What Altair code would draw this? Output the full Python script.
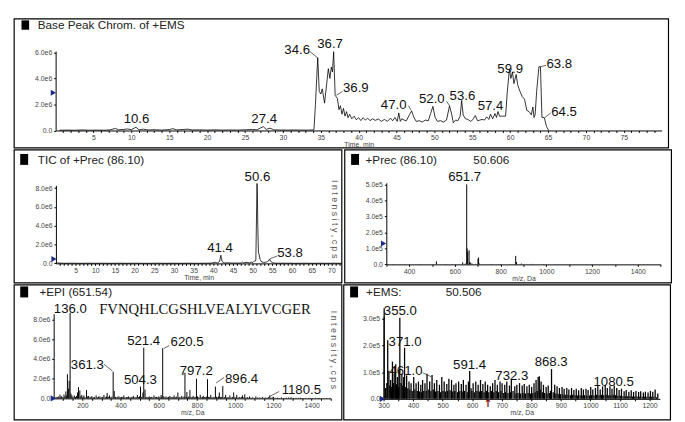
import altair as alt
import pandas as pd

SX = 669 / 685
SY = 406 / 422
FONT = "Liberation Sans"
AXC = "#444"

# ---------------- data ----------------
# Panel 1: Base Peak Chromatogram (time min, intensity 1e6)
P1_TIME = [0.5, 1.5, 2.5, 3.5, 4.5, 5.5, 6.5, 7.2, 7.9, 8.3,
           9.0, 9.5, 10.0, 10.6, 11.0, 11.6, 12.2, 13.0, 14.0, 15.0,
           15.5, 16.0, 16.8, 17.5, 18.0, 19.0, 20.0, 21.0, 22.0, 23.0,
           24.0, 25.0, 26.0, 26.6, 27.4, 27.8, 28.3, 28.8, 29.5, 30.5,
           31.5, 32.5, 33.5, 34.1, 34.3, 34.6, 34.8, 35.0, 35.2, 35.5,
           36.0, 36.2, 36.4, 36.55, 36.7, 36.9, 37.2, 37.4, 37.6, 37.8,
           38.0, 38.2, 38.4, 38.6, 38.8, 39.1, 39.4, 39.7, 40.0, 40.3,
           40.6, 40.9, 41.2, 41.5, 41.8, 42.2, 42.6, 43.0, 43.4, 43.8,
           44.2, 44.5, 44.8, 45.1, 45.3, 45.5, 45.7, 46.0, 46.3, 46.7,
           47.0, 47.3, 47.6, 48.0, 48.4, 48.8, 49.2, 49.5, 49.8, 50.1,
           50.4, 50.8, 51.2, 51.6, 52.0, 52.3, 52.5, 52.8, 53.1, 53.4,
           53.6, 53.8, 54.1, 54.4, 54.8, 55.1, 55.4, 55.7, 56.0, 56.3,
           56.6, 56.9, 57.2, 57.4, 57.7, 58.0, 58.2, 58.4, 58.6, 59.0,
           59.4, 59.6, 59.9, 60.1, 60.3, 60.5, 60.8, 61.0, 61.3, 61.6,
           61.9, 62.2, 62.5, 62.8, 63.0, 63.15, 63.3, 63.5, 63.8, 64.0,
           64.2, 64.5, 64.8, 65.1]
P1_INT = [0.02, 0.03, 0.02, 0.04, 0.02, 0.03, 0.02, 0.05, 0.16, 0.05,
          0.08, 0.12, 0.06, 0.25, 0.05, 0.10, 0.04, 0.06, 0.03, 0.07,
          0.14, 0.04, 0.08, 0.10, 0.04, 0.05, 0.03, 0.05, 0.03, 0.04,
          0.03, 0.05, 0.08, 0.05, 0.30, 0.08, 0.18, 0.05, 0.04, 0.03,
          0.04, 0.03, 0.03, 0.05, 2.0, 5.6, 3.0, 2.8, 3.2, 2.1,
          4.75, 4.0, 4.87, 4.5, 6.05, 2.7, 2.45, 1.6, 1.9, 1.25,
          1.7, 1.1, 1.45, 0.98, 1.25, 0.9, 1.1, 0.83, 0.98, 0.76,
          0.98, 0.8, 0.95, 0.75, 0.9, 0.78, 0.88, 0.7, 0.85, 0.7,
          0.95, 0.75, 1.0, 0.7, 1.35, 0.7, 0.9, 0.8, 0.75, 1.2,
          1.5, 1.0, 0.7, 0.75, 0.65, 0.8, 0.75, 1.3, 1.85, 1.0,
          0.7, 0.75, 0.65, 0.8, 1.9, 1.2, 0.6, 0.8, 0.75, 1.1,
          2.3, 1.2, 0.9, 0.85, 0.7, 0.85, 1.15, 0.75, 0.8, 0.85,
          0.8, 1.05, 0.85, 1.25, 0.9, 1.3, 1.0, 1.45, 1.1, 1.1,
          1.1, 2.8, 4.7, 4.0, 4.5, 3.6, 4.3, 3.5, 3.0, 2.6,
          2.4, 1.55, 1.45, 1.2, 1.8, 1.0, 1.2, 3.0, 4.9, 4.9,
          1.0, 1.0, 0.3, 0.0]
P1_LABELS = ["10.6", "27.4", "34.6", "36.7", "36.9", "47.0", "52.0", "53.6", "57.4", "59.9", "63.8", "64.5"]
P1_LAB_T = [10.67, 27.53, 31.88, 36.23, 39.63, 44.62, 49.66, 53.7, 57.41, 60.0, 66.49, 67.12]
P1_LAB_V = [0.89, 0.87, 6.18, 6.62, 3.25, 1.95, 2.44, 2.62, 1.84, 4.70, 5.11, 1.45]
P1_LEAD_T1 = [33.58, 37.87, 46.57, 51.6, 64.73, 65.36]
P1_LEAD_V1 = [6.05, 3.0, 1.9, 2.25, 5.0, 1.35]
P1_LEAD_T2 = [34.55, 37.05, 46.95, 52.0, 64.0, 64.6]
P1_LEAD_V2 = [5.6, 2.7, 1.55, 1.9, 4.9, 1.0]

# Panel 2: TIC of +Prec (time min, intensity 1e6)
P2_TIME = [0.3, 2, 4, 6, 8, 10, 12, 14, 16, 18,
           20, 22, 24, 26, 28, 30, 32, 34, 36, 38,
           39.5, 40.5, 41.0, 41.6, 41.9, 42.2, 42.5, 43.0, 43.7, 44.5,
           45.5, 46.5, 47.1, 47.4, 47.7, 48.3, 48.8, 49.2, 49.6, 50.0,
           50.4, 50.8, 50.95, 51.1, 51.2, 51.3, 51.45, 51.6, 51.9, 52.3,
           52.8, 53.3, 53.8, 54.0, 54.3, 54.6, 55.0, 55.6, 57, 59,
           61, 63, 65, 67, 69, 71, 72.5]
P2_INT = [0.05, 0.01, 0.02, 0.01, 0.02, 0.01, 0.02, 0.01, 0.02, 0.01,
          0.02, 0.01, 0.01, 0.02, 0.01, 0.02, 0.01, 0.02, 0.01, 0.02,
          0.03, 0.12, 0.04, 0.2, 0.87, 0.25, 0.08, 0.04, 0.07, 0.03,
          0.04, 0.03, 0.05, 0.15, 0.05, 0.12, 0.1, 0.05, 0.15, 0.08,
          0.25, 0.3, 4.4, 8.5, 7.3, 4.0, 1.2, 1.0, 0.4, 0.15,
          0.1, 0.12, 0.2, 0.25, 0.47, 0.2, 0.08, 0.03, 0.02, 0.02,
          0.01, 0.02, 0.01, 0.02, 0.01, 0.02, 0.01]
P2_LABELS = ["50.6", "41.4", "53.8"]
P2_LAB_T = [51.2, 41.7, 59.5]
P2_LAB_V = [9.22, 1.6, 1.07]

# Panel 3: +Prec (86.10) spectrum (m/z, intensity 1e5)
P3_MZ = [330, 380, 450, 519, 560, 600, 634, 645, 651.7, 653.5,
         656, 662, 665, 669, 675, 690, 701, 703.5, 708, 760,
         800, 866, 869, 891, 937, 989, 1050, 1150]
P3_INT = [0.02, 0.01, 0.02, 0.19, 0.02, 0.01, 0.13, 0.05, 5.0, 1.0,
          0.8, 0.88, 0.15, 0.1, 0.05, 0.03, 0.35, 0.43, 0.05, 0.02,
          0.02, 0.53, 0.15, 0.05, 0.03, 0.02, 0.01, 0.01]

# Panel 4: +EPI (651.54) spectrum (m/z, intensity 1e6)
P4_MZ = [56, 63, 70, 76, 83, 88, 92, 98, 104, 109,
         114, 118, 122, 127, 131, 136.0, 140, 145, 151, 158,
         164, 170, 175, 180, 187, 192, 197, 203, 208, 214,
         222, 228, 233, 240, 246, 250, 257, 263, 272, 278,
         285, 292, 299, 306, 313, 320, 326, 330, 336, 342,
         349, 355, 361.3, 367, 374, 380, 386, 392, 399, 405,
         411, 417, 423, 430, 436, 442, 449, 455, 461, 467,
         474, 481, 488, 494, 499, 504.3, 510, 517, 521.4, 528,
         534, 540, 546, 550, 557, 563, 569, 575, 582, 588,
         594, 600, 606, 612, 616, 620.5, 626, 632, 638, 645,
         651, 658, 664, 670, 676, 680, 686, 692, 700, 706,
         712, 720, 726, 732, 737, 742, 747, 752, 757, 763,
         769, 775, 780, 786, 791, 797.2, 803, 809, 817, 823,
         828, 833, 839, 844, 849, 855, 861, 866, 872, 878,
         884, 890, 896.4, 902, 908, 913, 917, 923, 929, 935,
         941, 946, 950, 956, 962, 967, 972, 978, 985, 992,
         998, 1004, 1008, 1015, 1022, 1028, 1034, 1038, 1044, 1050,
         1057, 1064, 1070, 1075, 1083, 1091, 1099, 1108, 1116, 1125,
         1133, 1142, 1151, 1160, 1168, 1175, 1180.5, 1188, 1196, 1200,
         1210, 1222, 1233, 1242, 1255, 1268, 1280, 1292, 1305, 1318,
         1330, 1342, 1356, 1370, 1384, 1392, 1405, 1420, 1435, 1442,
         1460, 1478, 1495]
P4_INT = [0.1, 0.15, 0.12, 0.2, 0.38, 0.15, 0.22, 0.12, 0.4, 0.2,
          0.7, 0.3, 2.45, 1.0, 1.8, 8.7, 0.5, 0.3, 0.18, 0.3,
          0.15, 0.25, 0.6, 1.15, 0.8, 0.2, 0.35, 0.15, 0.3, 0.12,
          0.85, 0.2, 0.25, 0.12, 0.18, 0.2, 0.1, 0.15, 0.3, 0.12,
          0.18, 0.2, 0.12, 0.15, 0.35, 0.12, 0.2, 0.55, 0.15, 0.3,
          0.12, 0.18, 2.7, 0.75, 0.15, 0.1, 0.18, 0.2, 0.1, 0.15,
          0.12, 0.3, 0.1, 0.15, 0.12, 0.2, 0.1, 0.15, 0.12, 0.25,
          0.1, 0.15, 0.35, 0.12, 0.2, 1.2, 0.15, 0.6, 5.15, 0.9,
          0.15, 0.12, 0.1, 0.2, 0.12, 0.15, 0.1, 0.3, 0.12, 0.15,
          0.1, 0.2, 0.12, 0.35, 0.15, 5.1, 0.2, 0.12, 0.2, 0.1,
          0.15, 0.25, 0.12, 0.15, 0.1, 0.3, 0.12, 0.18, 0.6, 0.15,
          0.12, 0.25, 0.1, 0.2, 2.6, 0.15, 0.65, 0.12, 0.2, 0.85,
          0.15, 0.12, 0.25, 0.1, 0.15, 2.0, 0.2, 0.12, 0.35, 0.1,
          0.15, 0.25, 0.12, 0.1, 0.18, 1.95, 0.15, 0.12, 0.35, 0.1,
          0.15, 0.12, 1.2, 0.15, 0.1, 0.2, 0.6, 0.12, 0.15, 1.25,
          0.1, 0.15, 0.35, 0.1, 0.12, 0.08, 0.3, 0.1, 0.15, 0.6,
          0.12, 0.08, 0.35, 0.1, 0.12, 0.08, 0.15, 0.3, 0.1, 0.4,
          0.08, 0.12, 0.06, 0.2, 0.08, 0.1, 0.06, 0.2, 0.08, 0.1,
          0.06, 0.15, 0.07, 0.1, 0.06, 0.12, 0.3, 0.08, 0.1, 0.15,
          0.06, 0.08, 0.05, 0.1, 0.05, 0.07, 0.1, 0.12, 0.05, 0.06,
          0.05, 0.08, 0.04, 0.05, 0.04, 0.06, 0.04, 0.05, 0.04, 0.05,
          0.03, 0.04, 0.03]
P4_LABELS = ["136.0", "521.4", "620.5", "361.3", "504.3", "797.2", "896.4", "1180.5"]
P4_LAB_MZ = [137, 521, 748, 226, 504, 796, 1033, 1346]
P4_LAB_V = [9.06, 5.87, 5.7, 3.37, 1.87, 2.78, 1.98, 0.86]
P4_LEAD_MZ1 = [655, 313, 942, 1230]
P4_LEAD_V1 = [5.36, 3.47, 2.13, 0.7]
P4_LEAD_MZ2 = [626, 358, 900, 1183]
P4_LEAD_V2 = [5.07, 2.78, 1.56, 0.22]
SEQUENCE = "FVNQHLCGSHLVEALYLVCGER"

# Panel 5: +EMS spectrum (m/z, intensity 1e5)
P5_MZ = [302, 307, 311, 314, 318, 321, 324, 327, 330, 333,
         336, 339, 341, 344, 347, 350, 352, 355.0, 359, 362,
         365, 368, 371.0, 375, 378, 382, 386, 389, 393, 397,
         402, 406, 410, 414, 418, 422, 426, 429, 432, 436,
         440, 444, 447, 451, 456, 460, 464, 468, 472, 476,
         480, 484, 489, 493, 497, 501, 505, 509, 514, 517,
         521, 525, 530, 534, 538, 541, 545, 550, 554, 558,
         563, 566, 570, 574, 579, 583, 587, 591.4, 596, 599,
         603, 607, 612, 616, 620, 624, 628, 632, 636, 640,
         644, 648, 652, 656, 661, 665, 669, 673, 677, 681,
         685, 689, 694, 697, 701, 705, 710, 713, 717, 721,
         726, 729, 732.3, 738, 744, 748, 751, 755, 760, 764,
         769, 772, 776, 780, 785, 789, 793, 797, 801, 805,
         809, 813, 816, 820, 823, 827, 830, 833, 837, 841,
         845, 850, 853, 857, 862, 865, 868.3, 874, 879, 883,
         887, 891, 895, 899, 904, 907, 911, 915, 920, 924,
         927, 932, 936, 940, 944, 948, 952, 956, 960, 965,
         969, 972, 976, 980, 985, 988, 992, 997, 1001, 1004,
         1008, 1012, 1017, 1021, 1025, 1029, 1033, 1037, 1041, 1045,
         1050, 1053, 1057, 1062, 1066, 1069, 1073, 1077, 1080.5, 1085,
         1089, 1093, 1097, 1101, 1105, 1110, 1114, 1118, 1121, 1126,
         1130, 1134, 1138, 1142, 1146, 1150, 1154, 1158, 1163, 1167,
         1170, 1175, 1179, 1183, 1186, 1191, 1195, 1199, 1203, 1207,
         1211, 1215, 1219, 1224, 1228]
P5_INT = [3.4, 0.41, 0.6, 2.2, 1.06, 0.5, 0.71, 0.45, 1.4, 0.6,
          0.94, 0.5, 1.3, 0.55, 0.82, 0.45, 1.06, 3.05, 0.6, 0.94,
          0.5, 0.82, 1.92, 0.45, 0.88, 0.4, 0.65, 0.35, 0.59, 0.3,
          0.82, 0.35, 0.59, 0.3, 0.65, 0.28, 0.53, 0.25, 0.71, 0.3,
          0.59, 0.3, 0.94, 0.35, 0.65, 0.3, 0.9, 0.35, 0.59, 0.28,
          0.71, 0.3, 0.53, 0.25, 0.82, 0.3, 0.65, 0.28, 0.56, 0.3,
          0.76, 0.32, 0.71, 0.28, 0.53, 0.3, 0.59, 0.25, 0.65, 0.3,
          0.56, 0.28, 0.71, 0.3, 0.53, 0.25, 0.65, 1.05, 0.4, 0.3,
          0.59, 0.25, 0.65, 0.3, 0.53, 0.28, 0.71, 0.3, 0.56, 0.25,
          0.65, 0.3, 0.53, 0.25, 0.47, 0.3, 0.59, 0.25, 0.71, 0.3,
          0.53, 0.25, 0.65, 0.3, 0.59, 0.22, 0.53, 0.25, 0.65, 0.22,
          0.5, 0.25, 0.75, 0.3, 0.47, 0.2, 0.53, 0.22, 0.59, 0.2,
          0.5, 0.22, 0.56, 0.2, 0.47, 0.22, 0.53, 0.2, 0.45, 0.22,
          0.59, 0.25, 0.71, 0.3, 0.82, 0.85, 0.35, 0.65, 0.25, 0.53,
          0.22, 0.45, 0.2, 0.5, 0.22, 0.3, 1.12, 0.25, 0.53, 0.2,
          0.47, 0.18, 0.41, 0.18, 0.45, 0.16, 0.38, 0.15, 0.41, 0.15,
          0.35, 0.14, 0.41, 0.15, 0.33, 0.14, 0.38, 0.13, 0.32, 0.14,
          0.41, 0.13, 0.35, 0.14, 0.38, 0.12, 0.33, 0.13, 0.45, 0.14,
          0.35, 0.13, 0.41, 0.15, 0.5, 0.14, 0.35, 0.15, 0.47, 0.14,
          0.53, 0.15, 0.41, 0.14, 0.47, 0.13, 0.38, 0.15, 0.5, 0.14,
          0.41, 0.12, 0.33, 0.12, 0.38, 0.1, 0.29, 0.1, 0.33, 0.1,
          0.27, 0.1, 0.32, 0.09, 0.26, 0.09, 0.3, 0.09, 0.26, 0.08,
          0.29, 0.08, 0.24, 0.08, 0.27, 0.08, 0.24, 0.08, 0.3, 0.08,
          0.27, 0.08, 0.35, 0.06, 0.2]
P5_LABELS = ["355.0", "371.0", "461.0", "591.4", "732.3", "868.3", "1080.5"]
P5_LAB_MZ = [356.6, 372.7, 376, 591, 734, 867, 1078.6]
P5_LAB_V = [3.28, 2.13, 1.04, 1.25, 0.87, 1.37, 0.63]


# ---------------- helpers ----------------
def px(xr, x0):
    return round((xr - x0) * SX, 1)


def py(yr, y0):
    return round((yr - y0) * SY, 1)


ONE = pd.DataFrame({"k": [0]})


def frame(H, x0, y0, xdom, xpx, ydom, ypx, xvals, xlab, yvals, ylab, xtitle):
    xr = [px(xpx[0], x0), px(xpx[1], x0)]
    yr = [py(ypx[0], y0), py(ypx[1], y0)]
    xs = alt.Scale(domain=xdom, range=xr, nice=False, zero=False)
    ys = alt.Scale(domain=ydom, range=yr, nice=False, zero=False)
    common = dict(grid=False, tickSize=2, tickColor="black", domainColor="black",
                  labelFont=FONT, labelFontSize=7, labelColor=AXC, labelOverlap=False,
                  labelFlush=False)
    xa = alt.Axis(values=xvals, labelExpr=xlab, title=xtitle, titleFont=FONT,
                  titleFontSize=7, titleFontWeight="normal", titleColor=AXC,
                  titlePadding=0, labelPadding=1, offset=yr[0] - H, **common)
    ya = alt.Axis(values=yvals, labelExpr=ylab, title=None, labelPadding=2,
                  offset=-xr[0], **common)
    return alt.X("x:Q", scale=xs, axis=xa), alt.Y("y:Q", scale=ys, axis=ya)


def labels(X, Y, xs, ys, texts, size=13.5):
    df = pd.DataFrame({"x": xs, "y": ys, "label": texts})
    return alt.Chart(df).mark_text(font=FONT, fontSize=size, color="#111",
                                   baseline="middle").encode(x=X, y=Y, text="label:N")


def leaders(X, Y, x1, y1, x2, y2):
    df = pd.DataFrame({"x": x1, "y": y1, "x2": x2, "y2": y2})
    return alt.Chart(df).mark_rule(color="#222", strokeWidth=0.7).encode(
        x=X, y=Y, x2="x2:Q", y2="y2:Q")


def square(xa, ya, xb, yb):
    return alt.Chart(ONE).mark_rect(color="black").encode(
        x=alt.value(xa), x2=alt.value(xb), y=alt.value(ya), y2=alt.value(yb))


def deco(text, x, y, size=12, angle=0, color="#222", baseline="alphabetic"):
    return alt.Chart(ONE).mark_text(text=text, font=FONT, fontSize=size, angle=angle,
                                    color=color, align="left" if angle == 0 else "center",
                                    baseline=baseline).encode(x=alt.value(x), y=alt.value(y))


def marker(X, Y, xv, yv):
    df = pd.DataFrame({"x": [xv], "y": [yv]})
    return alt.Chart(df).mark_point(shape="triangle-right", filled=True, size=38,
                                    color="#1c2a8a", opacity=1).encode(x=X, y=Y)


def spectrum(X, Y, mz, vals, width=1.0):
    df = pd.DataFrame({"x": mz, "y": vals})
    return alt.Chart(df).mark_rule(color="black", strokeWidth=width).encode(
        x=X, y=Y, y2=alt.datum(0))


def trace(X, Y, t, vals):
    df = pd.DataFrame({"x": t, "y": vals})
    return alt.Chart(df).mark_line(color="black", strokeWidth=0.8).encode(x=X, y=Y)


E6 = "datum.value == 0 ? '0.0' : format(datum.value, '.1f') + 'e6'"
E5 = "datum.value == 0 ? '0.0' : format(datum.value, '.1f') + 'e5'"
INTENS = "I n t e n s i t y ,   c p s"

# ---------------- panel 1 ----------------
W1, H1 = 669, 132
X1, Y1 = frame(H1, 0, 0, [0, 80], [43.7, 678.1], [0, 6.1], [119, 34.6],
               list(range(1, 80)), "datum.value % 5 == 0 ? datum.value : ''",
               [0, 2, 4, 6], E6, "Time, min")
p1 = alt.layer(
    trace(X1, Y1, P1_TIME, P1_INT),
    leaders(X1, Y1, P1_LEAD_T1, P1_LEAD_V1, P1_LEAD_T2, P1_LEAD_V2),
    labels(X1, Y1, P1_LAB_T, P1_LAB_V, P1_LABELS),
    marker(X1, Y1, -0.3, 2.9),
    square(px(8, 0), py(2, 0), px(16, 0), py(12, 0)),
    deco("Base Peak Chrom. of +EMS", px(25, 0), py(11.5, 0)),
).properties(width=W1, height=H1)

# ---------------- panel 2 ----------------
W2, H2 = 335, 136
X2, Y2 = frame(H2, 0, 137, [0, 72.5], [44, 342.7], [0, 8.3], [258, 175],
               list(range(1, 73)), "datum.value % 5 == 0 ? datum.value : ''",
               [0, 2, 4, 6, 8], E6, "Time, min")
p2 = alt.layer(
    trace(X2, Y2, P2_TIME, P2_INT),
    leaders(X2, Y2, [56.3], [0.8], [54.4], [0.5]),
    labels(X2, Y2, P2_LAB_T, P2_LAB_V, P2_LABELS),
    marker(X2, Y2, -0.5, 0.47),
    square(px(6.7, 0), py(141.7, 137), px(15, 0), py(153.3, 137)),
    deco("TIC of +Prec (86.10)", px(25, 0), py(152.5, 137)),
    deco(INTENS, px(336, 0), py(211, 137), size=9, angle=90, color="#555", baseline="middle"),
).properties(width=W2, height=H2)

# ---------------- panel 3 ----------------
W3, H3 = 334, 136
X3, Y3 = frame(H3, 343, 137, [300, 1500], [386.8, 674], [0, 5.1], [259, 172.3],
               list(range(300, 1501, 100)), "datum.value % 200 == 0 ? datum.value : ''",
               [0, 1, 2, 3, 4, 5], E5, "m/z, Da")
p3 = alt.layer(
    spectrum(X3, Y3, P3_MZ, P3_INT),
    labels(X3, Y3, [642.7], [5.45], ["651.7"]),
    marker(X3, Y3, 288, 1.3),
    square(px(350, 343), py(141.7, 137), px(358.3, 343), py(153.3, 137)),
    deco("+Prec (86.10)", px(365, 343), py(152.5, 137)),
    deco("50.606", px(478, 343), py(152.5, 137)),
).properties(width=W3, height=H3)

# ---------------- panel 4 ----------------
W4, H4 = 335, 138
X4, Y4 = frame(H4, 0, 278, [50, 1500], [41.7, 331.7], [0, 8.6], [399, 309.1],
               list(range(100, 1501, 50)), "datum.value % 200 == 0 ? datum.value : ''",
               [0, 2, 4, 6, 8], E6, "m/z, Da")
seq_df = pd.DataFrame({"x": [288], "y": [9.1], "label": [SEQUENCE]})
p4 = alt.layer(
    spectrum(X4, Y4, P4_MZ, P4_INT),
    leaders(X4, Y4, P4_LEAD_MZ1, P4_LEAD_V1, P4_LEAD_MZ2, P4_LEAD_V2),
    labels(X4, Y4, P4_LAB_MZ, P4_LAB_V, P4_LABELS),
    alt.Chart(seq_df).mark_text(font="Liberation Serif", fontSize=15, align="left",
                                baseline="middle", color="#111").encode(x=X4, y=Y4, text="label:N"),
    marker(X4, Y4, 48, 0.0),
    square(px(6.7, 0), py(280, 278), px(15, 0), py(291.7, 278)),
    deco("+EPI (651.54)", px(26.7, 0), py(290.5, 278)),
    deco(INTENS, px(335, 0), py(347.5, 278), size=9, angle=90, color="#555", baseline="middle"),
).properties(width=W4, height=H4)

# ---------------- panel 5 ----------------
W5, H5 = 334, 138
X5, Y5 = frame(H5, 343, 278, [300, 1235], [385, 674.2], [0, 3.1], [399.5, 311.8],
               list(range(300, 1235, 50)), "datum.value % 100 == 0 ? datum.value : ''",
               [0, 1, 2, 3], E5, "m/z, Da")
arrow_df = pd.DataFrame({"x": [653], "y": [-0.2], "label": ["\u2191"]})
p5 = alt.layer(
    spectrum(X5, Y5, P5_MZ, P5_INT, width=1.3),
    leaders(X5, Y5, [432.6], [0.98], [461.6], [0.83]),
    labels(X5, Y5, P5_LAB_MZ, P5_LAB_V, P5_LABELS),
    alt.Chart(arrow_df).mark_text(font="DejaVu Sans", fontSize=11, fontWeight="bold",
                                  color="#8b1a1a", baseline="middle").encode(x=X5, y=Y5, text="label:N"),
    marker(X5, Y5, 296, 0.0),
    square(px(350, 343), py(280, 278), px(358.3, 343), py(291.7, 278)),
    deco("+EMS:", px(366.7, 343), py(290.5, 278)),
    deco("50.506", px(450, 343), py(290.5, 278)),
).properties(width=W5, height=H5)

chart = alt.vconcat(
    p1,
    alt.hconcat(p2, p3, spacing=0),
    alt.hconcat(p4, p5, spacing=0),
    spacing=0,
).configure_view(stroke="black", strokeWidth=1.2).properties(background="white")

chart.save("out.html", embed_options={"renderer": "svg", "actions": False})
